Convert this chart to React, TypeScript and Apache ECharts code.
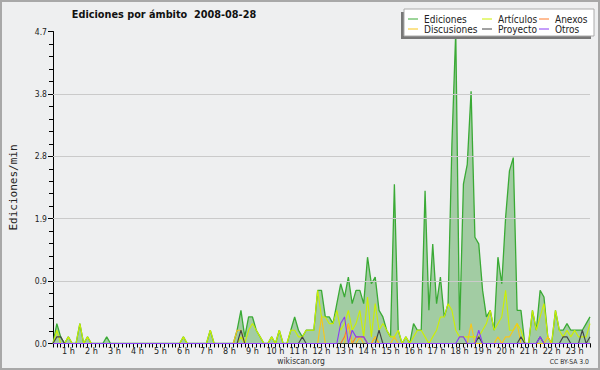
import React, { useEffect, useRef } from "react";
import * as echarts from "echarts";

// 10-minute slots from 0:20 to 23:40 (141 slots)
const START_MIN = 20;
const STEP_MIN = 10;
const N_SLOTS = 141;
const categories: string[] = [];
for (let i = 0; i < N_SLOTS; i++) {
  const m = START_MIN + i * STEP_MIN;
  categories.push(`${Math.floor(m / 60)}:${String(m % 60).padStart(2, "0")}`);
}

const hourLabels = [
  "1 h", "2 h", "3 h", "4 h", "5 h", "6 h", "7 h", "8 h", "9 h", "10 h", "11 h", "12 h",
  "13 h", "14 h", "15 h", "16 h", "17 h", "18 h", "19 h", "20 h", "21 h", "22 h", "23 h",
];

const yTicks = [0, 0.94, 1.88, 2.82, 3.76, 4.7];
const gridLines = [0.94, 1.88, 2.82, 3.76];

// Ediciones (edits/min)
const ediciones = [
  0, 0.3, 0.1, 0, 0.1, 0, 0, 0.3, 0, 0.1,
  0, 0, 0, 0, 0.1, 0, 0, 0, 0, 0,
  0, 0, 0, 0, 0, 0, 0, 0, 0, 0,
  0, 0, 0, 0, 0.1, 0, 0, 0, 0, 0,
  0, 0.2, 0, 0, 0, 0, 0, 0, 0.2, 0.5,
  0.1, 0.4, 0.4, 0.2, 0.1, 0, 0, 0.1, 0, 0.2,
  0, 0, 0.2, 0.4, 0.2, 0.1, 0.2, 0.2, 0.2, 0.8,
  0.8, 0.4, 0.4, 0.3, 0.6, 0.9, 0.7, 1.0, 0.6, 0.8,
  0.8, 0.6, 1.3, 0.9, 1.0, 0.5, 0.4, 0.2, 0.1, 2.4,
  0.2, 0, 0.1, 0, 0.3, 0.2, 0.2, 2.3, 0.5, 1.5,
  0.6, 1.0, 0.4, 0.6, 3.0, 4.7, 0.2, 2.4, 2.7, 3.8,
  1.6, 1.5, 0.8, 0.4, 0.5, 0.2, 1.3, 0.9, 1.9, 2.6,
  2.8, 0.5, 0.5, 0, 0, 0.5, 0.2, 0.8, 0.7, 0.1,
  0, 0.5, 0.2, 0.2, 0.3, 0.2, 0.2, 0.2, 0.2, 0.3,
  0.4,
];

const articulos = [
  0, 0.2, 0, 0, 0.1, 0, 0, 0.3, 0, 0.1,
  0, 0, 0, 0, 0, 0, 0, 0, 0, 0,
  0, 0, 0, 0, 0, 0, 0, 0, 0, 0,
  0, 0, 0, 0, 0.1, 0, 0, 0, 0, 0,
  0, 0.2, 0, 0, 0, 0, 0, 0, 0, 0.1,
  0, 0.2, 0.3, 0.2, 0.1, 0, 0, 0.1, 0, 0.2,
  0, 0, 0.2, 0.2, 0.1, 0.1, 0.2, 0.2, 0.2, 0.8,
  0.4, 0.4, 0.3, 0.3, 0.5, 0.2, 0.3, 0.5, 0.2, 0.3,
  0.5, 0.1, 0.7, 0.1, 0.6, 0.2, 0.3, 0.2, 0.1, 0.1,
  0.2, 0, 0.1, 0, 0.1, 0.2, 0.2, 0.1, 0, 0.1,
  0.2, 0.4, 0.4, 0.6, 0.5, 0.2, 0.1, 0.1, 0.1, 0.1,
  0.1, 0.1, 0.2, 0.3, 0.5, 0.2, 0.3, 0.4, 0.8, 0.2,
  0.2, 0.3, 0.2, 0, 0, 0.5, 0.2, 0.4, 0.6, 0.1,
  0, 0.5, 0.2, 0.1, 0.2, 0.1, 0.2, 0.1, 0.1, 0.1,
  0.3,
];

const anexos = [
  0, 0, 0, 0, 0, 0, 0, 0, 0, 0,
  0, 0, 0, 0, 0, 0, 0, 0, 0, 0,
  0, 0, 0, 0, 0, 0, 0, 0, 0, 0,
  0, 0, 0, 0, 0, 0, 0, 0, 0, 0,
  0, 0, 0, 0, 0, 0, 0, 0, 0, 0,
  0, 0, 0, 0, 0, 0, 0, 0, 0, 0,
  0, 0, 0, 0, 0, 0, 0, 0, 0, 0,
  0, 0, 0, 0, 0, 0, 0.1, 0.3, 0, 0.1,
  0.1, 0.1, 0, 0, 0.1, 0, 0, 0, 0, 0,
  0, 0, 0, 0, 0, 0, 0, 0, 0, 0,
  0, 0, 0, 0, 0, 0, 0, 0, 0, 0,
  0, 0, 0, 0, 0, 0, 0, 0, 0, 0,
  0, 0, 0, 0, 0, 0, 0, 0, 0, 0,
  0, 0, 0, 0, 0, 0, 0, 0, 0, 0,
  0,
];

const discusiones = [
  0, 0, 0, 0, 0, 0, 0, 0, 0, 0,
  0, 0, 0, 0, 0, 0, 0, 0, 0, 0,
  0, 0, 0, 0, 0, 0, 0, 0, 0, 0,
  0, 0, 0, 0, 0, 0, 0, 0, 0, 0,
  0, 0, 0, 0, 0, 0, 0, 0, 0.2, 0.2,
  0, 0, 0, 0, 0, 0, 0, 0, 0, 0,
  0, 0, 0, 0, 0, 0, 0, 0, 0, 0,
  0.4, 0, 0, 0, 0, 0, 0, 0.3, 0, 0,
  0.1, 0, 0, 0, 0.1, 0, 0, 0, 0, 0.1,
  0, 0, 0, 0, 0, 0, 0, 0, 0, 0,
  0, 0, 0, 0, 0, 0, 0, 0, 0, 0.3,
  0, 0, 0, 0, 0, 0, 0.1, 0, 0.1, 0.1,
  0.2, 0.3, 0, 0, 0, 0, 0, 0, 0, 0.1,
  0, 0, 0, 0, 0, 0, 0, 0, 0, 0,
  0,
];

const proyecto = [
  0, 0.1, 0.1, 0, 0, 0, 0, 0, 0, 0,
  0, 0, 0, 0, 0, 0, 0, 0, 0, 0,
  0, 0, 0, 0, 0, 0, 0, 0, 0, 0,
  0, 0, 0, 0, 0, 0, 0, 0, 0, 0,
  0, 0, 0, 0, 0, 0, 0, 0, 0, 0.2,
  0, 0, 0, 0, 0, 0, 0, 0, 0, 0,
  0, 0, 0, 0, 0, 0.1, 0, 0, 0, 0,
  0, 0, 0, 0, 0, 0, 0, 0, 0, 0,
  0, 0, 0, 0, 0, 0.2, 0, 0, 0, 0,
  0, 0, 0, 0, 0, 0, 0, 0, 0, 0,
  0, 0, 0, 0, 0, 0, 0, 0, 0, 0,
  0, 0.1, 0, 0, 0, 0, 0, 0, 0, 0,
  0, 0, 0.1, 0, 0, 0, 0, 0.1, 0, 0,
  0, 0, 0, 0.1, 0.1, 0, 0, 0, 0.2, 0,
  0.1,
];

const otros = [
  0, 0, 0, 0, 0, 0, 0, 0, 0, 0,
  0, 0, 0, 0, 0, 0, 0, 0, 0, 0,
  0, 0, 0, 0, 0, 0, 0, 0, 0, 0,
  0, 0, 0, 0, 0, 0, 0, 0, 0, 0,
  0, 0, 0, 0, 0, 0, 0, 0, 0, 0,
  0, 0, 0, 0, 0, 0, 0, 0, 0, 0,
  0, 0, 0, 0, 0, 0, 0, 0, 0, 0,
  0, 0, 0, 0, 0, 0.3, 0.4, 0, 0.2, 0.1,
  0.1, 0.1, 0, 0, 0, 0, 0, 0, 0, 0,
  0, 0, 0, 0, 0, 0, 0, 0, 0, 0,
  0, 0, 0, 0, 0, 0, 0.1, 0.1, 0, 0,
  0, 0.2, 0, 0, 0, 0, 0, 0, 0, 0,
  0, 0, 0, 0, 0, 0, 0, 0.1, 0, 0,
  0, 0, 0, 0, 0, 0, 0, 0, 0, 0,
  0,
];

const seriesNames = ["Ediciones", "Artículos", "Anexos", "Discusiones", "Proyecto", "Otros"];
const seriesColors = ["#3aaa35", "#ccf000", "#ff7a2a", "#f7c61a", "#444444", "#8a3cf5"];
const seriesData = [ediciones, articulos, anexos, discusiones, proyecto, otros];

const COND = "'DejaVu Sans Condensed', 'DejaVu Sans', sans-serif";

export default function App() {
  const ref = useRef<HTMLDivElement>(null);

  useEffect(() => {
    if (!ref.current) return;
    const chart = echarts.init(ref.current, undefined, { renderer: "svg" });

    const legendCols = [408, 482, 539];
    const legendRows = [19, 29];
    const legendEls: any[] = [
      { type: "rect", shape: { x: 401, y: 12, width: 190, height: 27 }, style: { fill: "#777" }, z: 100 },
      { type: "rect", shape: { x: 404, y: 9, width: 190, height: 27 }, style: { fill: "#ffffff", stroke: "#aaaaaa", lineWidth: 1 }, z: 101 },
    ];
    seriesNames.forEach((name, k) => {
      const x = legendCols[k % 3];
      const y = legendRows[Math.floor(k / 3)];
      legendEls.push({
        type: "line",
        shape: { x1: x, y1: y, x2: x + 10, y2: y },
        style: { stroke: seriesColors[k], lineWidth: 1 },
        z: 102,
      });
      legendEls.push({
        type: "text",
        x: x + 16,
        y: y,
        style: {
          text: name,
          fill: "#222",
          font: `10px ${COND}`,
          verticalAlign: "middle",
          textVerticalAlign: "middle",
        },
        z: 102,
      });
    });

    const series: any[] = seriesData.map((d, si) => ({
      name: seriesNames[si],
      type: "line",
      data: d,
      symbol: "none",
      z: 3 + si,
      lineStyle: { color: seriesColors[si], width: si === 0 ? 1.3 : 1.1 },
      itemStyle: { color: seriesColors[si] },
      areaStyle: si === 0 ? { color: "#3a9a3a", opacity: 0.42 } : undefined,
    }));
    // horizontal grid lines (no line at the top value)
    series.unshift({
      name: "grid",
      type: "line",
      data: [],
      z: 1,
      markLine: {
        silent: true,
        symbol: ["none", "none"],
        label: { show: false },
        lineStyle: { color: "#cacaca", width: 1, type: "solid" },
        data: gridLines.map((v) => ({ yAxis: v })),
      },
    });

    const option: any = {
      animation: false,
      backgroundColor: "#eeeff0",
      textStyle: { fontFamily: COND },
      grid: { left: 46, right: 10, top: 31.5, bottom: 26.5, containLabel: false },
      xAxis: {
        type: "category",
        data: categories,
        boundaryGap: false,
        axisLine: { lineStyle: { color: "#000", width: 1 } },
        axisTick: { interval: 0, length: 4, lineStyle: { color: "#000" } },
        axisLabel: {
          interval: (i: number) => (i + 2) % 6 === 0,
          formatter: (_v: string, i: number) => ((i + 2) % 6 === 0 ? hourLabels[(i + 2) / 6 - 1] || "" : ""),
          fontSize: 9,
          color: "#222",
          margin: 3,
          fontFamily: COND,
        },
        splitLine: { show: false },
      },
      yAxis: {
        type: "value",
        min: yTicks[0],
        max: yTicks[yTicks.length - 1],
        interval: yTicks[1],
        name: "Ediciones/min",
        nameLocation: "middle",
        nameGap: 34,
        nameTextStyle: { fontSize: 11, color: "#222", fontFamily: "'DejaVu Sans Mono', monospace" },
        axisLine: { show: true, lineStyle: { color: "#000", width: 1 } },
        axisTick: { show: true, length: 5, lineStyle: { color: "#000" } },
        minorTick: { show: true, splitNumber: 5, length: 4, lineStyle: { color: "#000" } },
        splitLine: { show: false },
        axisLabel: {
          formatter: (v: number) => v.toFixed(1),
          fontSize: 8.5,
          color: "#222",
          margin: 6,
          fontFamily: COND,
        },
      },
      series,
      graphic: [
        {
          type: "rect",
          shape: { x: 1, y: 1, width: 598, height: 368 },
          style: { fill: "none", stroke: "#a8a8a8", lineWidth: 2 },
          z: 200,
          silent: true,
        },
        {
          type: "text",
          x: 164,
          y: 14,
          style: {
            text: "Ediciones por ámbito  2008-08-28",
            fill: "#111",
            font: `bold 10.8px ${COND}`,
            align: "center",
            textAlign: "center",
            verticalAlign: "middle",
            textVerticalAlign: "middle",
          },
          z: 100,
        },
        {
          type: "text",
          x: 301,
          y: 361,
          style: {
            text: "wikiscan.org",
            fill: "#333",
            font: `8.5px ${COND}`,
            align: "center",
            textAlign: "center",
            verticalAlign: "middle",
            textVerticalAlign: "middle",
          },
          z: 100,
        },
        {
          type: "text",
          x: 589,
          y: 362,
          style: {
            text: "CC BY-SA 3.0",
            fill: "#333",
            font: `6.8px ${COND}`,
            align: "right",
            textAlign: "right",
            verticalAlign: "middle",
            textVerticalAlign: "middle",
          },
          z: 100,
        },
        ...legendEls,
      ],
    };

    chart.setOption(option);
    return () => chart.dispose();
  }, []);

  return (
    <div
      ref={ref}
      style={{ position: "absolute", left: 0, top: 0, width: 600, height: 370 }}
    />
  );
}
